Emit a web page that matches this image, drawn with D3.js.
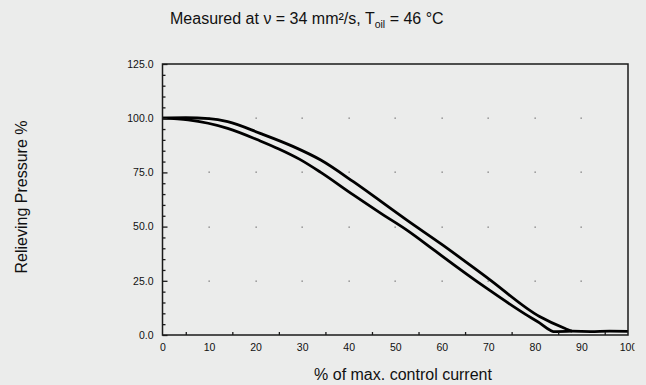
<!DOCTYPE html>
<html>
<head>
<meta charset="utf-8">
<script src="https://cdn.jsdelivr.net/npm/d3@7"></script>
<style>
  html, body { margin: 0; padding: 0; background: #ebeceb; }
  svg { display: block; font-family: "Liberation Sans", Arial, sans-serif; }
</style>
</head>
<body>
<figure id="chart" style="margin:0"></figure>
<script>
// Relieving pressure vs control current, two branches of the hysteresis loop
const currentUp = [0, 5, 10, 14, 21, 28, 34, 41, 47, 52.5, 60, 70, 81, 86.5, 88, 92, 96, 100];
const pressureUp = [100, 100.2, 99.8, 98.4, 93, 87, 80.7, 70.7, 61.5, 53, 41.8, 26, 8.5, 3, 1.8, 1.6, 1.8, 1.7];

const currentDown = [0, 5.5, 14, 21, 25, 29.5, 34, 41, 47, 52.5, 57.4, 60, 70, 78, 81, 83.3, 84, 88];
const pressureDown = [100, 99.2, 95.3, 89.5, 85.8, 81, 75, 64.6, 56, 48.4, 40.7, 36.5, 21, 9.5, 5.6, 2.2, 1.6, 1.8];

const xTicks = [0, 10, 20, 30, 40, 50, 60, 70, 80, 90, 100];
const yTicks = [0, 25, 50, 75, 100, 125];

const width = 646, height = 385;

const svg = d3.select("figure#chart").append("svg")
  .attr("width", width)
  .attr("height", height);

svg.append("rect")
  .attr("width", width)
  .attr("height", height)
  .attr("fill", "#ebeceb");

const x = d3.scaleLinear().domain([0, 100]).range([162.5, 628]);
const y = d3.scaleLinear().domain([0, 125]).range([335, 64]);

// grid dots at every major intersection
const dots = [];
xTicks.slice(1, -1).forEach(a => yTicks.slice(1, -1).forEach(b => dots.push([a, b])));
svg.append("g").selectAll("rect")
  .data(dots)
  .join("rect")
  .attr("x", d => Math.round(x(d[0])) - 0.5)
  .attr("y", d => Math.round(y(d[1])) - 0.5)
  .attr("width", 1.3)
  .attr("height", 1.3)
  .attr("fill", "#777");

// curves
const line = d3.line()
  .x(d => x(d[0]))
  .y(d => y(d[1]))
  .curve(d3.curveMonotoneX);

const curves = [
  d3.zip(currentUp, pressureUp),
  d3.zip(currentDown, pressureDown)
];
svg.append("g").selectAll("path")
  .data(curves)
  .join("path")
  .attr("d", line)
  .attr("fill", "none")
  .attr("stroke", "#000")
  .attr("stroke-width", 2.8)
  .attr("stroke-linejoin", "round");

// frame
svg.append("rect")
  .attr("x", x(0))
  .attr("y", y(125))
  .attr("width", x(100) - x(0))
  .attr("height", y(0) - y(125))
  .attr("fill", "none")
  .attr("stroke", "#1a1a1a")
  .attr("stroke-width", 1.5);

// y axis, ticks drawn inside
const yAxis = svg.append("g")
  .attr("transform", `translate(${x(0)},0)`)
  .call(d3.axisLeft(y).tickValues(yTicks).tickSize(-5).tickPadding(9).tickFormat(d3.format(".1f")));
const yMinor = svg.append("g")
  .attr("transform", `translate(${x(0)},0)`)
  .call(d3.axisLeft(y).tickValues(d3.range(5, 125, 5).filter(v => v % 25 !== 0)).tickSize(-3).tickFormat(""));

// x axis, ticks pointing up; last label is cut at the right like the original
svg.append("clipPath").attr("id", "xlabels")
  .append("rect").attr("x", 0).attr("y", 0).attr("width", 634.5).attr("height", height);
const xAxis = svg.append("g")
  .attr("transform", `translate(0,${y(0)})`)
  .attr("clip-path", "url(#xlabels)")
  .call(d3.axisBottom(x).tickValues(xTicks).tickSize(-5).tickPadding(8.5).tickFormat(d3.format("d")));
const xMinor = svg.append("g")
  .attr("transform", `translate(0,${y(0)})`)
  .call(d3.axisBottom(x).tickValues(d3.range(5, 100, 10)).tickSize(-3).tickFormat(""));

[yAxis, yMinor, xAxis, xMinor].forEach(g => {
  g.select(".domain").remove();
  g.selectAll(".tick line").attr("stroke", "#1a1a1a").attr("stroke-width", 1.3);
  g.selectAll(".tick text")
    .attr("fill", "#111")
    .style("font-family", "'Liberation Sans', Arial, sans-serif")
    .style("font-size", "10.5px");
});

// title
const title = svg.append("text")
  .attr("x", 170)
  .attr("y", 24)
  .attr("fill", "#111")
  .style("font-size", "16px");
title.append("tspan").text("Measured at ν = 34 mm²/s, T");
title.append("tspan").attr("dy", 4).style("font-size", "10.5px").text("oil");
title.append("tspan").attr("dy", -4).text(" = 46 °C");

// axis labels
svg.append("text")
  .attr("x", 403)
  .attr("y", 380)
  .attr("text-anchor", "middle")
  .attr("fill", "#111")
  .style("font-size", "16px")
  .text("% of max. control current");

svg.append("text")
  .attr("transform", "translate(27,197) rotate(-90)")
  .attr("text-anchor", "middle")
  .attr("fill", "#111")
  .style("font-size", "16px")
  .text("Relieving Pressure %");
</script>
</body>
</html>
